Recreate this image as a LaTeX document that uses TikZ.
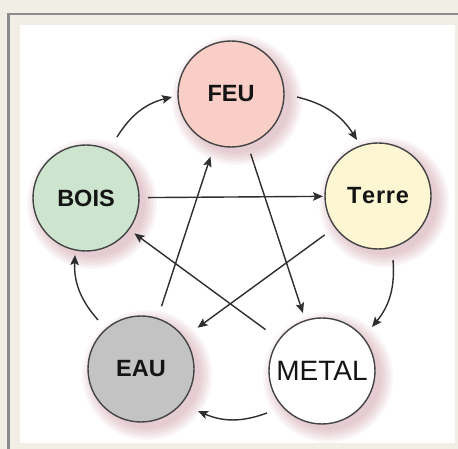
\documentclass[tikz,border=0pt]{standalone}
\usepackage{fontspec}
\setmainfont{Liberation Sans}
\usetikzlibrary{arrows.meta,calc}
\definecolor{bgbeige}{HTML}{F0EEE5}
\definecolor{framegray}{HTML}{8A8C8C}
\definecolor{feufill}{HTML}{F8CEC6}
\definecolor{boisfill}{HTML}{CDE4CF}
\definecolor{terrefill}{HTML}{FCF7D2}
\definecolor{eaufill}{HTML}{C3C3C3}
\definecolor{metalfill}{HTML}{FFFFFF}
\definecolor{linecol}{HTML}{2E2E2E}
\definecolor{rimcol}{HTML}{444444}
\definecolor{shadowcol}{HTML}{C98E9A}
\tikzset{
  elem/.style={circle, draw=rimcol, line width=1.4pt, minimum size=106pt, inner sep=0pt, font=\bfseries\fontsize{23.5}{24}\selectfont, text=black!92},
  arr/.style={draw=linecol, line width=1.4pt, -{Stealth[length=10pt,width=8.5pt,inset=2pt]}},
}
\newcommand{\glowshadow}[1]{%
  \foreach \rr in {53,55,...,65}{%
    \fill[shadowcol, opacity=0.075] ($(#1)+(6,-6)$) circle (\rr);
  }%
}
\begin{document}
\begin{tikzpicture}[x=1pt,y=1pt]
\useasboundingbox (0,0) rectangle (458,449);
\fill[bgbeige] (0,0) rectangle (458,449);
\fill[framegray] (7,0) rectangle (9.5,436);
\fill[framegray] (7,433.5) rectangle (458,436);
\fill[white] (20,6) rectangle (455,424);

\coordinate (cFEU) at (231,355);
\coordinate (cBOIS) at (86,251);
\coordinate (cTerre) at (378,253);
\coordinate (cEAU) at (141,80);
\coordinate (cMETAL) at (322,78);

\glowshadow{cFEU}
\glowshadow{cBOIS}
\glowshadow{cTerre}
\glowshadow{cEAU}
\glowshadow{cMETAL}

\node[elem, fill=feufill] (FEU) at (cFEU) {FEU};
\node[elem, fill=boisfill] (BOIS) at (cBOIS) {BOIS};
\node[elem, fill=terrefill] (Terre) at (cTerre) {T\kern0.8pt e\kern0.8pt r\kern0.8pt r\kern0.8pt e};
\node[elem, fill=eaufill] (EAU) at (cEAU) {EAU};
\node[elem, fill=metalfill, font=\fontsize{28}{28}\selectfont] (METAL) at (cMETAL) {METAL};

% cycle (curved)
\draw[arr] ($(BOIS)+(31,61)$) to[bend left=22] ($(FEU)+(-59,-3)$);
\draw[arr] ($(FEU)+(66,-3)$) to[bend left=22] ($(Terre)+(-21,56)$);
\draw[arr] ($(Terre)+(15,-64)$) to[bend left=22] ($(METAL)+(50,44)$);
\draw[arr] ($(METAL)+(-55,-42)$) to[bend left=22] ($(EAU)+(57,-42)$);
\draw[arr] ($(EAU)+(-43,49)$) to[bend left=22] ($(BOIS)+(-11,-57)$);

% star (straight)
\draw[arr] ($(BOIS)!62pt!(Terre)$) -- ($(Terre)!55pt!(BOIS)$);
\draw[arr] ($(Terre)!66pt!(EAU)$) -- ($(EAU)!70pt!(Terre)$);
\draw[arr] ($(EAU)!66pt!(FEU)$) -- ($(FEU)!66pt!(EAU)$);
\draw[arr] ($(FEU)!63pt!(METAL)$) -- ($(METAL)!61pt!(FEU)$);
\draw[arr] ($(METAL)!70pt!(BOIS)$) -- ($(BOIS)!60pt!(METAL)$);
\end{tikzpicture}
\end{document}
